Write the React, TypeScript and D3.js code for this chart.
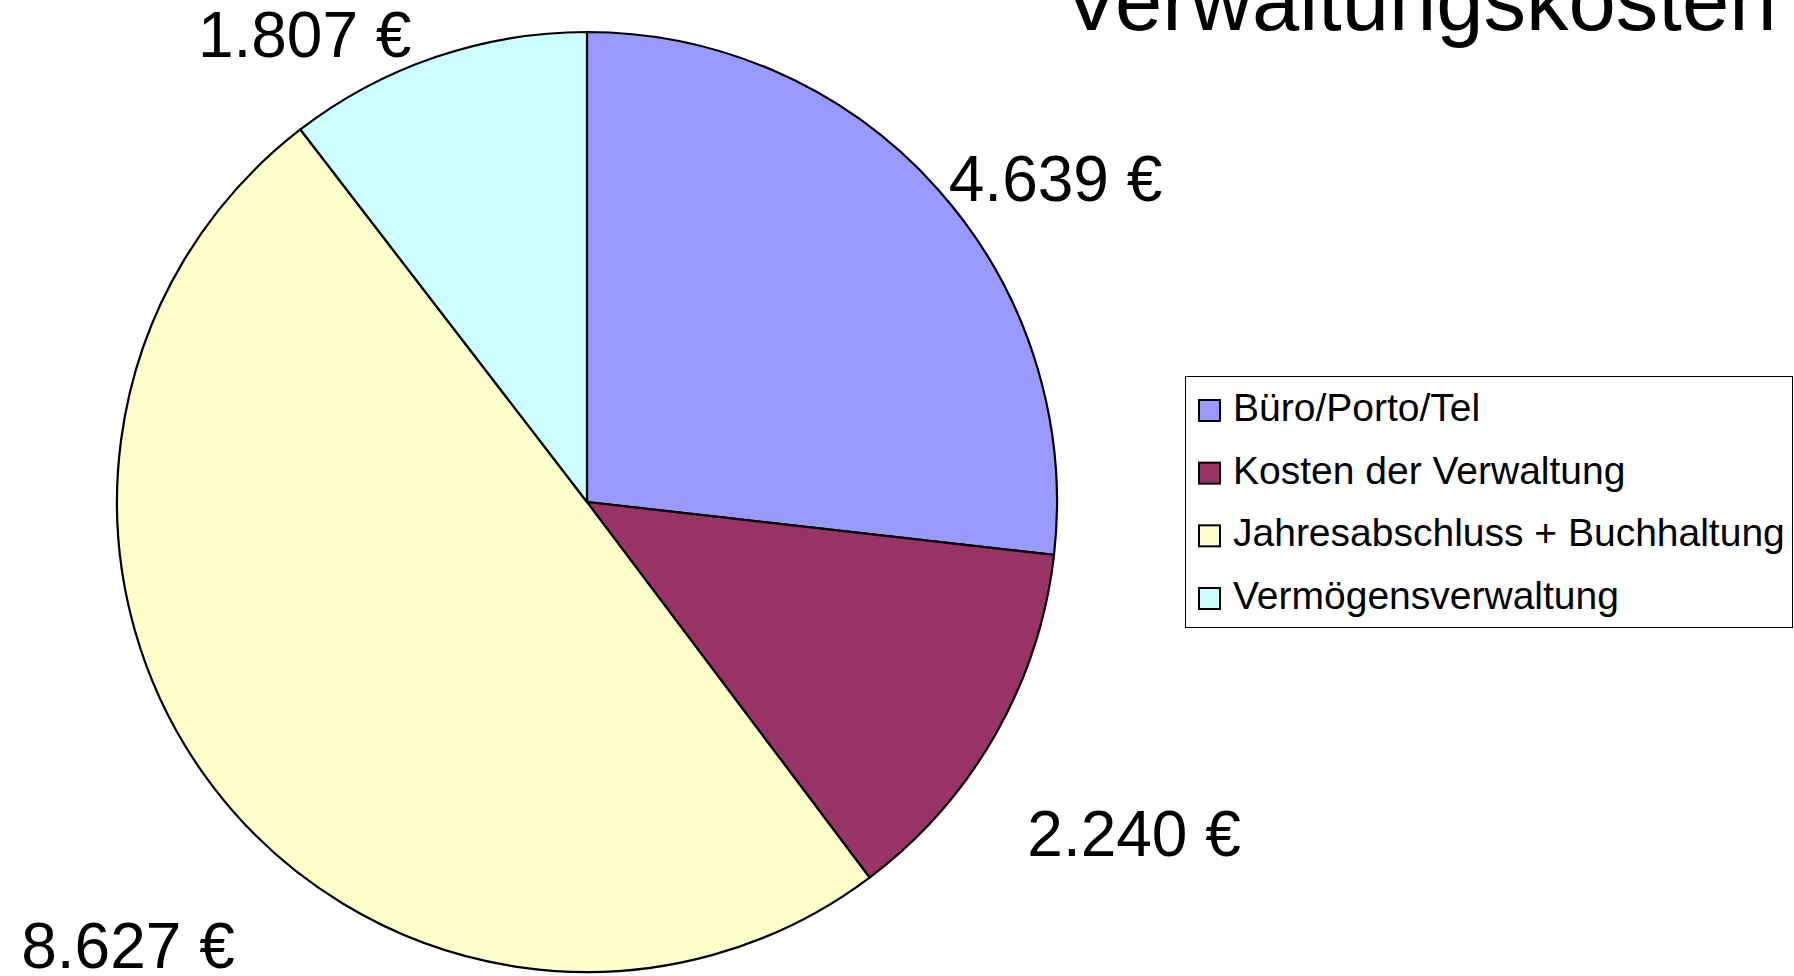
import React from "react";
import * as d3 from "d3";

const categories = [
  "Büro/Porto/Tel",
  "Kosten der Verwaltung",
  "Jahresabschluss + Buchhaltung",
  "Vermögensverwaltung",
];
const values = [4639, 2240, 8627, 1807];
const colors = ["#9999FF", "#993366", "#FFFFCC", "#CCFFFF"];
const title = "Verwaltungskosten";

const W = 1794;
const H = 976;
const cx = 587;
const cy = 502;
const R = 470;
const font = "'Liberation Sans', Arial, sans-serif";

// label nudges from the arc edge at mid-angle (Excel puts them oddly)
const labelNudge: [number, number][] = [
  [118, 12],
  [139, 121],
  [-85, 181],
  [-131, 0],
];

const de = d3.formatLocale({
  decimal: ",",
  thousands: ".",
  grouping: [3],
  currency: ["", " €"],
});
const fmt = de.format("$,.0f");

const App = () => {
  const pie = d3
    .pie<number>()
    .value((d) => d)
    .sort(null);
  const arcs = pie(values);
  const arc = d3.arc<d3.PieArcDatum<number>>().innerRadius(0).outerRadius(R);
  const edge = d3.arc<d3.PieArcDatum<number>>().innerRadius(R).outerRadius(R);

  const legendY = d3
    .scalePoint<string>()
    .domain(categories)
    .range([421, 609]);

  return (
    <div style={{ position: "absolute", left: 0, top: 0, width: W, height: H, background: "#fff" }}>
      <svg width={W} height={H} style={{ display: "block" }}>
        <g transform={`translate(${cx},${cy})`}>
          {arcs.map((d, i) => (
            <path
              key={categories[i]}
              d={arc(d) || ""}
              fill={colors[i]}
              stroke="#000"
              strokeWidth={2.2}
              strokeLinejoin="round"
            />
          ))}
          {arcs.map((d, i) => {
            const [x, y] = edge.centroid(d);
            return (
              <text
                key={"l" + i}
                x={x + labelNudge[i][0]}
                y={y + labelNudge[i][1]}
                textAnchor="middle"
                fontFamily={font}
                fontSize={64}
                fill="#000"
              >
                {fmt(values[i])}
              </text>
            );
          })}
        </g>

        <text x={1063} y={30} fontFamily={font} fontSize={85} fill="#000">
          {title}
        </text>

        <g>
          <rect x={1185.5} y={376.5} width={607} height={251} fill="#fff" stroke="#000" strokeWidth={1} />
          {categories.map((c, i) => {
            const y = legendY(c) as number;
            return (
              <g key={c}>
                <rect x={1199} y={y - 21} width={21} height={21} fill={colors[i]} stroke="#000" strokeWidth={2} />
                <text x={1233} y={y} fontFamily={font} fontSize={39} fill="#000">
                  {c}
                </text>
              </g>
            );
          })}
        </g>
      </svg>
    </div>
  );
};

export default App;
